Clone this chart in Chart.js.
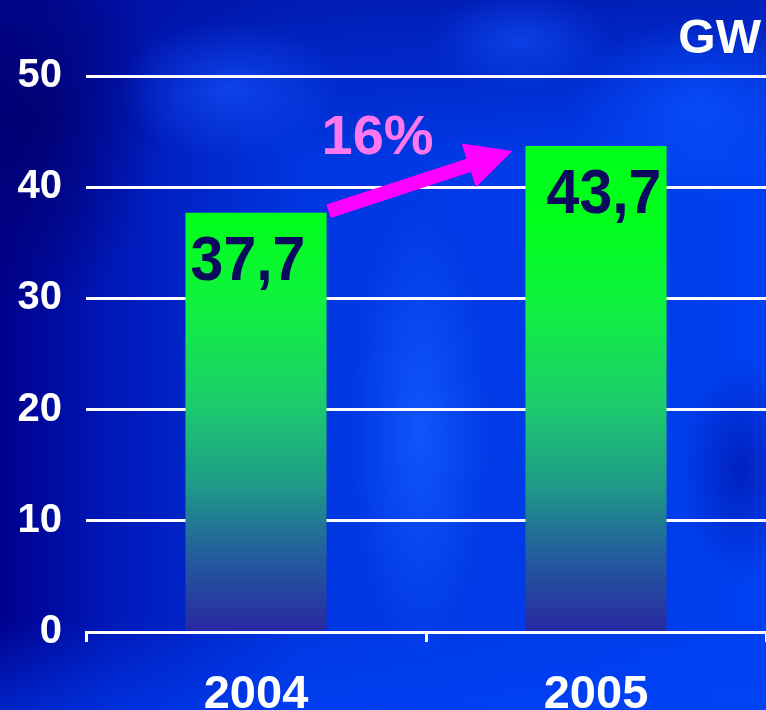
<!DOCTYPE html>
<html>
<head>
<meta charset="utf-8">
<script src="https://cdn.jsdelivr.net/npm/chart.js@4.4.1/dist/chart.umd.min.js"></script>
<style>
  html, body { margin: 0; padding: 0; }
  body {
    width: 766px; height: 710px; overflow: hidden;
    background:
      radial-gradient(ellipse 70px 230px at 420px 430px, rgba(20,90,255,0.85), rgba(20,90,255,0) 100%),
      radial-gradient(ellipse 110px 70px at 230px 90px, rgba(20,80,250,0.7), rgba(20,80,250,0) 100%),
      radial-gradient(ellipse 90px 50px at 520px 40px, rgba(20,80,250,0.6), rgba(20,80,250,0) 100%),
      radial-gradient(ellipse 130px 90px at 700px 110px, rgba(10,80,255,0.8), rgba(10,80,255,0) 100%),
      radial-gradient(ellipse 60px 110px at 740px 470px, rgba(0,20,170,0.7), rgba(0,20,170,0) 100%),
      radial-gradient(ellipse 130px 200px at 30px 120px, rgba(0,0,110,0.9), rgba(0,0,110,0) 100%),
      linear-gradient(to bottom, rgba(0,10,150,0.6) 0px, rgba(0,10,150,0) 160px, rgba(0,0,0,0) 620px, rgba(0,70,255,0.5) 710px),
      linear-gradient(to right, #00008c 0px, #0018b8 110px, #0036e0 300px, #0040f0 766px);
  }
  canvas { display: block; }
</style>
</head>
<body>
<canvas id="chart" width="766" height="710"></canvas>
<script>
'use strict';

// data
const years = ['2004', '2005'];
const capacity = [37.7, 43.7];
const yTicks = [0, 10, 20, 30, 40, 50];
const growthLabel = '16%';
const unitLabel = 'GW';

const FONT = '"Liberation Sans", Arial, sans-serif';

function barGradient(chart) {
  const area = chart.chartArea;
  if (!area) return '#00ff00';
  const g = chart.ctx.createLinearGradient(0, chart.scales.y.getPixelForValue(capacity[0]), 0, area.bottom);
  g.addColorStop(0, '#00ff1a');
  g.addColorStop(0.2, '#0ef43c');
  g.addColorStop(0.45, '#1ccd6c');
  g.addColorStop(0.65, '#1f9a88');
  g.addColorStop(0.82, '#235c9e');
  g.addColorStop(1, '#2828a2');
  return g;
}

// value labels, growth arrow and unit text
const overlay = {
  id: 'overlay',
  afterDatasetsDraw(chart) {
    const ctx = chart.ctx;
    const bars = chart.getDatasetMeta(0).data;
    ctx.save();

    // value labels inside bar tops (slightly tall type, like the slide)
    ctx.fillStyle = '#0a0a5e';
    ctx.font = 'bold 59px ' + FONT;
    ctx.textAlign = 'center';
    ctx.textBaseline = 'alphabetic';
    const nudge = [-8, 8];
    bars.forEach((b, i) => {
      const txt = capacity[i].toFixed(1).replace('.', ',');
      ctx.save();
      ctx.translate(b.x + nudge[i], b.y + 67);
      ctx.scale(1, 1.07);
      ctx.fillText(txt, 0, 0);
      ctx.restore();
    });

    // growth arrow between the bars
    const b0 = bars[0], b1 = bars[1];
    const x1 = b0.x + b0.width / 2 + 2, y1 = b0.y - 1.5;
    const x2 = b1.x - b1.width / 2 - 13, y2 = b1.y + 5;
    const dx = x2 - x1, dy = y2 - y1, len = Math.hypot(dx, dy);
    const ux = dx / len, uy = dy / len, nx = -uy, ny = ux;
    const sw = 7, hw = 23, hl = 46;
    const bx = x2 - ux * hl, by = y2 - uy * hl;
    ctx.fillStyle = '#ff00ff';
    ctx.beginPath();
    ctx.moveTo(x1 + nx * sw, y1 + ny * sw);
    ctx.lineTo(bx + nx * sw, by + ny * sw);
    ctx.lineTo(bx + nx * hw, by + ny * hw);
    ctx.lineTo(x2, y2);
    ctx.lineTo(bx - nx * hw, by - ny * hw);
    ctx.lineTo(bx - nx * sw, by - ny * sw);
    ctx.lineTo(x1 - nx * sw, y1 - ny * sw);
    ctx.closePath();
    ctx.fill();

    ctx.fillStyle = '#ff77ee';
    ctx.font = 'bold 56px ' + FONT;
    ctx.textAlign = 'left';
    ctx.fillText(growthLabel, x1 - 7, y1 - 57);

    ctx.fillStyle = '#ffffff';
    ctx.font = 'bold 48px ' + FONT;
    ctx.textAlign = 'right';
    ctx.fillText(unitLabel, chart.width - 5, 53);

    ctx.restore();
  }
};

new Chart(document.getElementById('chart'), {
  type: 'bar',
  data: {
    labels: years,
    datasets: [{
      label: unitLabel,
      data: capacity,
      backgroundColor: ctx => barGradient(ctx.chart),
      borderWidth: 0,
      categoryPercentage: 1,
      barPercentage: 0.415
    }]
  },
  options: {
    responsive: false,
    animation: false,
    layout: { padding: { top: 76, right: 0, left: 0, bottom: 0 } },
    plugins: {
      legend: { display: false },
      tooltip: { enabled: false }
    },
    scales: {
      x: {
        afterFit: s => { s.height = 78; },
        border: { display: true, color: '#ffffff', width: 3 },
        grid: { display: true, offset: true, drawOnChartArea: false, color: '#ffffff', lineWidth: 3, tickLength: 10 },
        ticks: { color: '#ffffff', padding: 25, font: { family: FONT, size: 47, weight: 'bold' } }
      },
      y: {
        min: 0,
        max: 50,
        afterFit: s => { s.width = 86; },
        afterBuildTicks: s => { s.ticks = yTicks.map(v => ({ value: v })); },
        border: { display: false },
        grid: { color: '#ffffff', lineWidth: 3, drawTicks: false },
        ticks: { color: '#ffffff', padding: 24, font: { family: FONT, size: 40, weight: 'bold' } }
      }
    }
  },
  plugins: [overlay]
});
</script>
</body>
</html>
